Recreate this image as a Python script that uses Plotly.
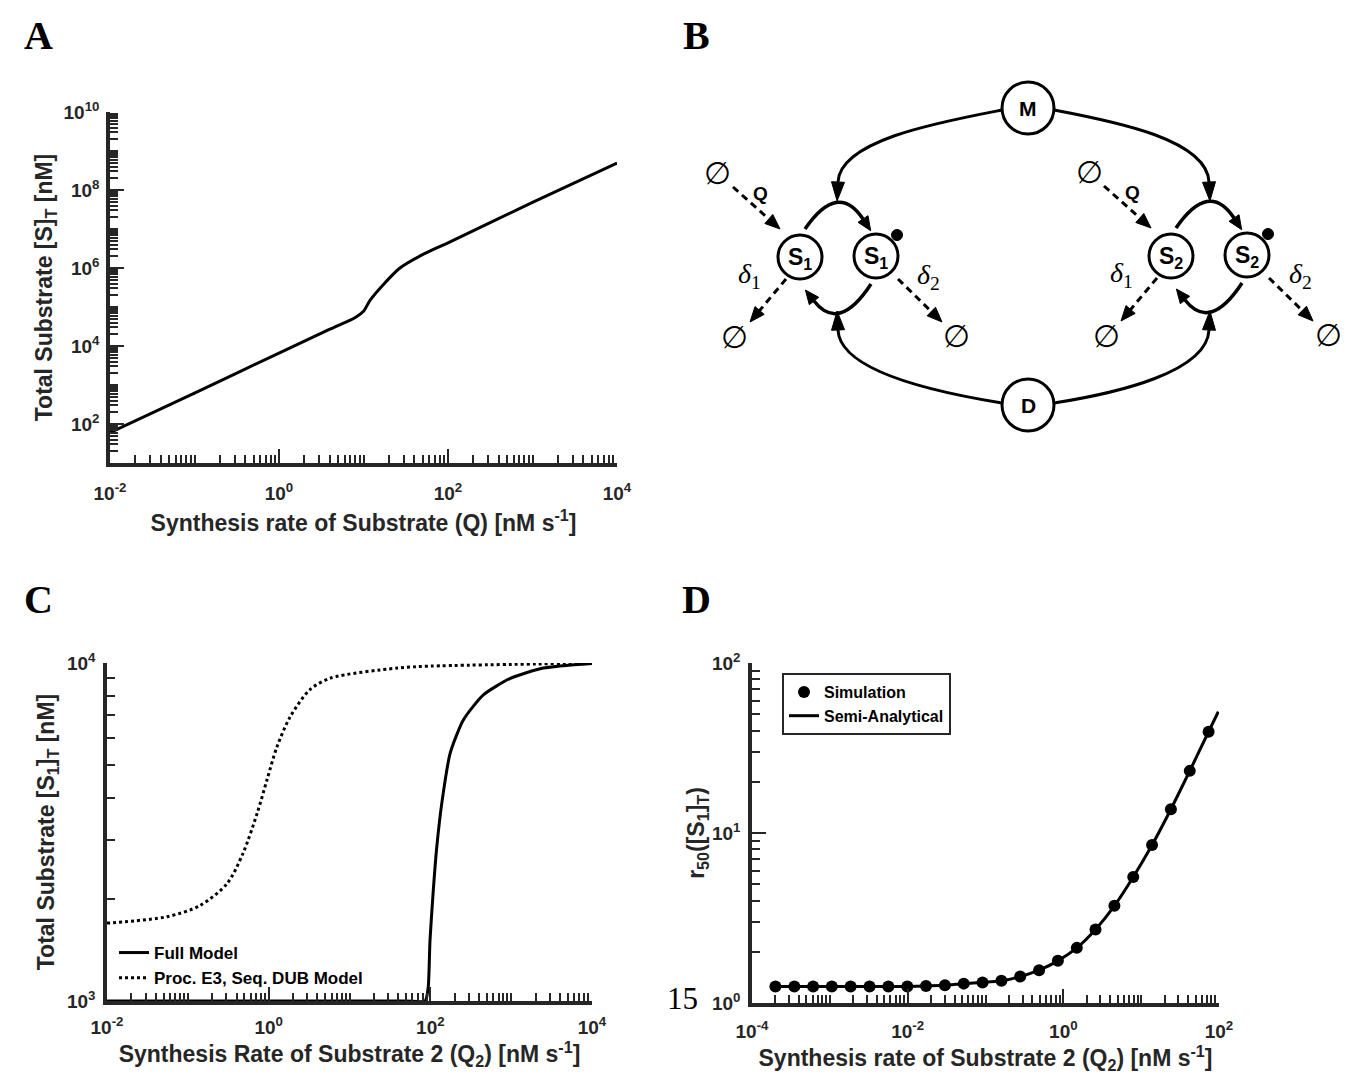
import math
import plotly.graph_objects as go

W, H = 1350, 1074
AX = "#262626"
SANS = "Liberation Sans, Arial, Helvetica, sans-serif"
SERIF = "Liberation Serif, Times New Roman, DejaVu Serif, serif"

# ---------------- Panel A data ----------------
a_q = [0.01, 0.1, 1, 4, 8, 10, 12, 18, 27, 50, 100, 1000, 10000]
a_s = [60, 620, 6600, 2.7e4, 5.4e4, 7.8e4, 1.5e5, 4.2e5, 1.0e6, 2.2e6, 4.4e6, 4.8e7, 4.9e8]

# ---------------- Panel C data ----------------
c_full_q = [0.01, 1, 50, 86, 94, 99, 108, 120, 140, 176, 255, 450, 977, 2500, 10000]
c_full_s = [1000, 1000, 1000, 1000, 1093, 1506, 2075, 2845, 3915, 5410, 6775, 8035, 9010, 9660, 9970]
c_proc_q = [0.01, 0.055, 0.14, 0.305, 0.48, 0.72, 0.95, 1.26, 1.84, 3.2, 5.8, 39, 100, 10000]
c_proc_s = [1700, 1775, 1914, 2223, 2730, 3590, 4500, 5630, 6920, 8320, 9020, 9660, 9790, 9990]

# ---------------- Panel D data ----------------
d_sim_q = [2.0e-4, 3.5e-4, 6.1e-4, 1.06e-3, 1.85e-3, 3.24e-3, 5.65e-3, 9.9e-3,
           0.0172, 0.0301, 0.0525, 0.0916, 0.160, 0.279, 0.488, 0.851,
           1.49, 2.59, 4.53, 7.91, 13.8, 24.1, 42.1, 73.5]
d_sim_r = [1.25, 1.25, 1.25, 1.25, 1.25, 1.25, 1.25, 1.25,
           1.26, 1.27, 1.30, 1.32, 1.35, 1.43, 1.56, 1.77,
           2.11, 2.71, 3.73, 5.51, 8.5, 13.8, 23.2, 39.4]
d_line_q = d_sim_q + [98]
d_line_r = d_sim_r + [51.7]

# tick exponents
a_x_major = [-2, 0, 2, 4]
a_y_major = [2, 4, 6, 8, 10]
c_x_major = [-2, 0, 2, 4]
c_y_major = [3, 4]
d_x_major = [-4, -2, 0, 2]
d_y_major = [0, 1, 2]


def px_x(p):
    return p / W


def px_y(p):
    return 1 - p / H


def minor_vals(e0, e1, majors):
    vals = []
    for e in range(e0, e1):
        for m in range(1, 10):
            if m == 1 and e in majors:
                continue
            vals.append(m * 10.0 ** e)
    return vals


def log_axis(dom, rng, majors, anchor, title, standoff, lblstand):
    return dict(
        type="log", domain=dom, range=rng, anchor=anchor,
        showline=True, linewidth=3.5, linecolor=AX, mirror=False,
        showgrid=False, zeroline=False,
        ticks="inside", ticklen=14, tickwidth=2, tickcolor=AX,
        tickmode="array", tickvals=[10.0 ** e for e in majors],
        ticktext=[f"10<sup>{e}</sup>" for e in majors],
        minor=dict(ticks="inside", ticklen=8, tickwidth=2, tickcolor=AX,
                   tickmode="array", tickvals=minor_vals(rng[0], rng[1], majors),
                   showgrid=False),
        tickfont=dict(family=SANS, size=19, color=AX, weight="bold"),
        ticklabelstandoff=lblstand,
        title=dict(text=title, standoff=standoff,
                   font=dict(family=SANS, size=23, color=AX, weight="bold")),
        automargin=False,
    )


fig = go.Figure()

# Panel A
fig.add_trace(go.Scatter(x=a_q, y=a_s, mode="lines", xaxis="x", yaxis="y",
                         line=dict(color="black", width=3, shape="spline", smoothing=0.8),
                         showlegend=False, hoverinfo="skip"))
# Panel C
fig.add_trace(go.Scatter(x=c_full_q, y=c_full_s, mode="lines", xaxis="x2", yaxis="y2",
                         name="Full Model", legend="legend",
                         line=dict(color="black", width=3, shape="spline", smoothing=0.6)))
fig.add_trace(go.Scatter(x=c_proc_q, y=c_proc_s, mode="lines", xaxis="x2", yaxis="y2",
                         name="Proc. E3, Seq. DUB Model", legend="legend",
                         line=dict(color="black", width=3, dash="3px,3px", shape="spline", smoothing=0.8)))
# Panel D
fig.add_trace(go.Scatter(x=d_line_q, y=d_line_r, mode="lines", xaxis="x3", yaxis="y3",
                         name="Semi-Analytical", legend="legend2", legendrank=2,
                         line=dict(color="black", width=3, shape="spline", smoothing=0.6)))
fig.add_trace(go.Scatter(x=d_sim_q, y=d_sim_r, mode="markers", xaxis="x3", yaxis="y3",
                         name="Simulation", legend="legend2", legendrank=1,
                         marker=dict(color="black", size=12, symbol="circle")))

# ---------------- axes ----------------
fig.update_layout(
    xaxis=log_axis([px_x(110), px_x(617)], [-2, 4], a_x_major, "y",
                   "Synthesis rate of Substrate (Q) [nM s<sup>-1</sup>]", 13, 10),
    yaxis=log_axis([px_y(463), px_y(112)], [1, 10], a_y_major, "x",
                   "Total Substrate [S]<sub>T</sub> [nM]", 5, 3),
    xaxis2=log_axis([px_x(107), px_x(592)], [-2, 4], c_x_major, "y2",
                    "Synthesis Rate of Substrate 2 (Q<sub>2</sub>) [nM s<sup>-1</sup>]", 9, 6),
    yaxis2=log_axis([px_y(1001), px_y(663)], [3, 4], c_y_major, "x2",
                    "Total Substrate [S<sub>1</sub>]<sub>T</sub> [nM]", 7, 4),
    xaxis3=log_axis([px_x(752), px_x(1219)], [-4, 2], d_x_major, "y3",
                    "Synthesis rate of Substrate 2 (Q<sub>2</sub>) [nM s<sup>-1</sup>]", 7, 8),
    yaxis3=log_axis([px_y(1003), px_y(663)], [0, 2], d_y_major, "x3",
                    "r<sub>50</sub>([S<sub>1</sub>]<sub>T</sub>)", 1, 4),
    xaxis4=dict(domain=[px_x(680), 1.0], range=[680, 1350], anchor="y4", visible=False,
                showgrid=False, zeroline=False),
    yaxis4=dict(domain=[px_y(450), px_y(60)], range=[450, 60], anchor="x4", visible=False,
                showgrid=False, zeroline=False),
)
# C and D y-axes: minor ticks at 2..9 of each decade
fig.layout.yaxis2.minor.tickvals = [2000, 3000, 4000, 5000, 6000, 7000, 8000, 9000]
fig.layout.yaxis3.minor.tickvals = [2, 3, 4, 5, 6, 7, 8, 9, 20, 30, 40, 50, 60, 70, 80, 90]

# ---------------- diagram (panel B) ----------------
shapes = []
annots = []
LW = 3


def unit(dx, dy):
    n = math.hypot(dx, dy)
    return dx / n, dy / n


def head(bx, by, dx, dy, L, w):
    ux, uy = unit(dx, dy)
    tx, ty = bx + L * ux, by + L * uy
    nx, ny = -uy, ux
    path = (f"M{tx:.1f},{ty:.1f} L{bx + w * nx:.1f},{by + w * ny:.1f} "
            f"L{bx - w * nx:.1f},{by - w * ny:.1f} Z")
    return dict(type="path", path=path, xref="x4", yref="y4",
                fillcolor="black", line=dict(color="black", width=1))


def cubic_arrow(p0, c1, c2, e, L=19, w=6.5):
    shapes.append(dict(type="path", xref="x4", yref="y4",
                       path=f"M{p0[0]},{p0[1]} C{c1[0]},{c1[1]} {c2[0]},{c2[1]} {e[0]},{e[1]}",
                       line=dict(color="black", width=LW)))
    shapes.append(head(e[0], e[1], e[0] - c2[0], e[1] - c2[1], L, w))


def quad_arrow(p0, c, e, L=14, w=6):
    shapes.append(dict(type="path", xref="x4", yref="y4",
                       path=f"M{p0[0]},{p0[1]} Q{c[0]},{c[1]} {e[0]},{e[1]}",
                       line=dict(color="black", width=LW + 0.5)))
    shapes.append(head(e[0], e[1], e[0] - c[0], e[1] - c[1], L, w))


def dashed_arrow(p0, tip, L=15, w=6):
    ux, uy = unit(tip[0] - p0[0], tip[1] - p0[1])
    bx, by = tip[0] - L * ux, tip[1] - L * uy
    shapes.append(dict(type="line", xref="x4", yref="y4", x0=p0[0], y0=p0[1], x1=bx, y1=by,
                       line=dict(color="black", width=LW, dash="7px,5px")))
    shapes.append(head(bx, by, ux, uy, L, w))


def circle(cx, cy, r, fill="white", lw=LW):
    shapes.append(dict(type="circle", xref="x4", yref="y4", x0=cx - r, x1=cx + r,
                       y0=cy - r, y1=cy + r, fillcolor=fill,
                       line=dict(color="black", width=lw)))


def label(x, y, text, size=18, family=SANS, weight="bold", color="black"):
    annots.append(dict(x=x, y=y, xref="x4", yref="y4", text=text, showarrow=False,
                       xanchor="center", yanchor="middle",
                       font=dict(family=family, size=size, color=color, weight=weight)))


MX, MY = 1028, 108
DX, DY = 1028, 405
pairs = [(838, 257, "1"), (1209, 256, "2")]

# big arcs from M and D
cubic_arrow((MX - 26, MY + 2), (940, 122), (840, 140), (838, 182))
cubic_arrow((MX + 26, MY + 2), (1118, 122), (1207, 140), (1209, 182))
cubic_arrow((DX - 26, DY - 2), (940, 393), (840, 372), (838, 330))
cubic_arrow((DX + 26, DY - 2), (1118, 393), (1207, 372), (1209, 330))

for cx, cy, k in pairs:
    quad_arrow((cx - 33, cy - 28), (cx, cy - 76), (cx + 25, cy - 38))
    quad_arrow((cx + 33, cy + 27), (cx + 1, cy + 76), (cx - 24, cy + 44))
    dashed_arrow((cx - 105, cy - 70), (cx - 58, cy - 28))
    dashed_arrow((cx - 52, cy + 22), (cx - 88, cy + 65))
    dashed_arrow((cx + 60, cy + 22), (cx + 104, cy + 65))
    circle(cx - 38, cy, 22)
    circle(cx + 38, cy - 1, 22)
    circle(cx + 59, cy - 22, 5.5, fill="black", lw=1)
    label(cx - 38, cy + 1, f"S<sub>{k}</sub>", size=23)
    label(cx + 38, cy, f"S<sub>{k}</sub>", size=23)
    label(cx - 77, cy - 64, "Q", size=19)
    label(cx - 88, cy + 18, f"<i>δ</i><sub>1</sub>", size=28, family=SERIF, weight="normal")
    label(cx + 91, cy + 19, f"<i>δ</i><sub>2</sub>", size=28, family=SERIF, weight="normal")
    label(cx - 120, cy - 84, "∅", size=31, family=SERIF, weight="normal")
    label(cx - 103, cy + 80, "∅", size=31, family=SERIF, weight="normal")
    label(cx + 119, cy + 79, "∅", size=31, family=SERIF, weight="normal")

circle(MX, MY, 26)
circle(DX, DY, 26)
label(MX, MY, "M", size=21)
label(DX, DY, "D", size=21)

# panel letters and stray page number
paper_annots = []
for txt, x, y in [("A", 38, 36), ("B", 697, 36), ("C", 38, 599), ("D", 697, 599)]:
    paper_annots.append(dict(x=px_x(x), y=px_y(y), xref="paper", yref="paper", text=txt,
                             showarrow=False, xanchor="center", yanchor="middle",
                             font=dict(family=SERIF, size=40, color="black", weight="bold")))
paper_annots.append(dict(x=px_x(682), y=px_y(998), xref="paper", yref="paper", text="15",
                         showarrow=False, xanchor="center", yanchor="middle",
                         font=dict(family=SERIF, size=31, color="black")))

fig.update_layout(
    width=W, height=H, margin=dict(l=0, r=0, t=0, b=0),
    paper_bgcolor="white", plot_bgcolor="white",
    shapes=shapes, annotations=annots + paper_annots,
    legend=dict(x=px_x(114), y=px_y(935), xanchor="left", yanchor="top",
                bgcolor="rgba(0,0,0,0)", borderwidth=0, tracegroupgap=0,
                font=dict(family=SANS, size=17, color="black", weight="bold")),
    legend2=dict(x=px_x(782), y=px_y(673), xanchor="left", yanchor="top",
                 bgcolor="white", bordercolor=AX, borderwidth=2,
                 font=dict(family=SANS, size=16, color="black", weight="bold")),
)

fig.write_html("out.html")
